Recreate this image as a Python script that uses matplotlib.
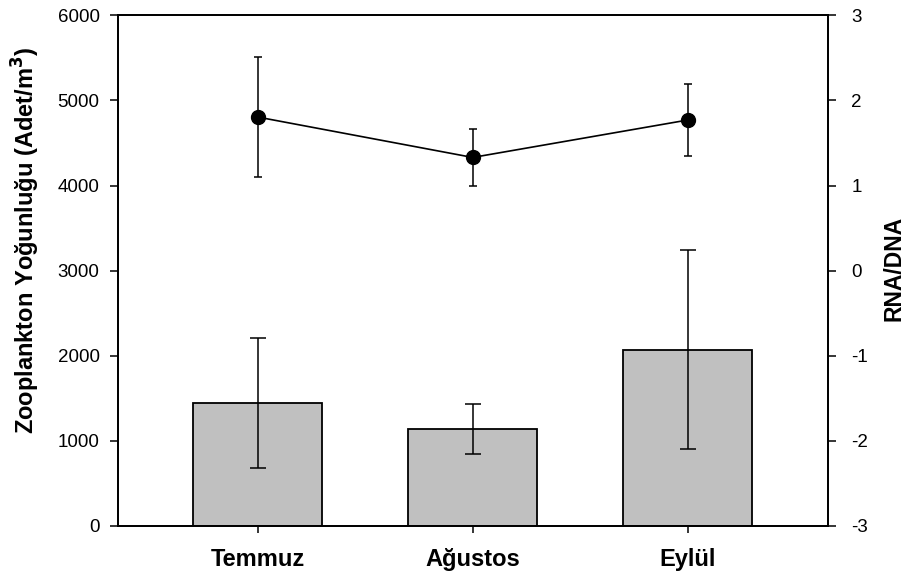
import matplotlib
matplotlib.use("Agg")
import matplotlib.pyplot as plt
import numpy as np

plt.rcParams['font.family'] = ['Liberation Sans', 'DejaVu Sans']
plt.rcParams['axes.unicode_minus'] = False

months = ["Temmuz", "Ağustos", "Eylül"]
density = [1445, 1140, 2072]
density_err = [760, 298, 1170]
rna_dna = [1.805, 1.33, 1.77]
rna_dna_err = [0.70, 0.34, 0.42]

left_ticks = [0, 1000, 2000, 3000, 4000, 5000, 6000]
right_ticks = [-3, -2, -1, 0, 1, 2, 3]

fig = plt.figure(figsize=(9.06, 5.77), dpi=100)
ax = fig.add_axes([117.7/906, 1-526/577, (827.7-117.7)/906, (526-15.3)/577])
x = np.arange(1, len(months)+1)

ax.bar(x, density, width=0.6, color='#c0c0c0', edgecolor='black', linewidth=1.3, zorder=2)
ax.errorbar(x, density, yerr=density_err, fmt='none', ecolor='black', elinewidth=1.1,
            capsize=5.8, capthick=1.1, zorder=3)
ax.set_xlim(0.35, 3.65)
ax.set_ylim(0, 6000)
ax.set_yticks(left_ticks)
ax.set_xticks(x)
ax.set_xticklabels(months, fontsize=17, fontweight='bold')
ax.tick_params(axis='y', direction='out', length=6, width=1.1, labelsize=13.5, pad=7)
ax.tick_params(axis='x', direction='out', length=5, width=1.1, pad=11)
for s in ax.spines.values():
    s.set_linewidth(1.3)

ax2 = ax.twinx()
ax2.errorbar(x, rna_dna, yerr=rna_dna_err, fmt='-o', color='black', markersize=10,
             linewidth=1.2, elinewidth=1.1, capsize=2.8, capthick=1.1, zorder=4)
ax2.set_ylim(-3, 3)
ax2.set_yticks(right_ticks)
ax2.tick_params(axis='y', direction='out', length=6, width=1.1, labelsize=13.5, pad=11)
for s in ax2.spines.values():
    s.set_linewidth(1.3)

fig.text(26/906, 1-240/577, "Zooplankton Yoğunluğu (Adet/m$^\\mathbf{3}$)", fontsize=17,
         fontweight='bold', rotation=90, ha='center', va='center')
fig.text(894/906, 1-268/577, "RNA/DNA", fontsize=16.5, fontweight='bold',
         rotation=90, ha='center', va='center')

fig.savefig("out.png", dpi=100)
